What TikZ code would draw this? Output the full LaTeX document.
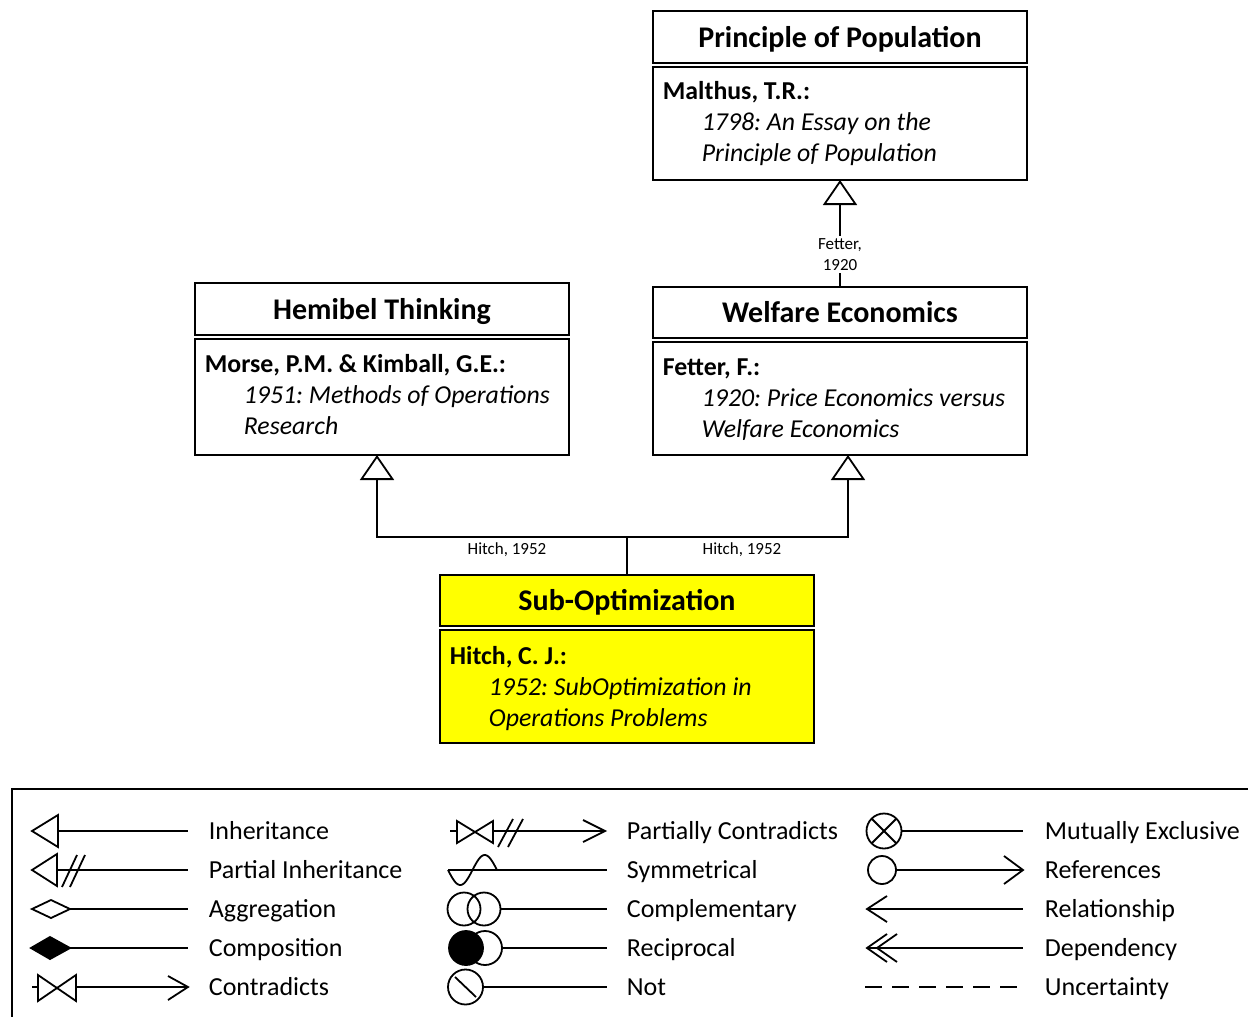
\documentclass[tikz,border=0pt]{standalone}
\usepackage{fontspec}
\setmainfont{Carlito}
\usetikzlibrary{arrows.meta}
\definecolor{hlyellow}{RGB}{255,255,0}
\frenchspacing
\begin{document}
\begin{tikzpicture}[x=1pt,y=-1pt,line width=1.8pt,
  titlebox/.style={draw,minimum width=374pt,minimum height=52pt,anchor=north west,inner sep=0pt,outer sep=0pt,text height=22pt,text depth=2pt,font=\fontsize{30}{36}\selectfont\bfseries},
  bodybox/.style={draw,minimum width=374pt,anchor=north west,inner sep=0pt,outer sep=0pt},
  who/.style={anchor=base west,inner sep=0pt,font=\fontsize{25.8}{31}\selectfont\bfseries},
  work/.style={anchor=base west,inner sep=0pt,font=\fontsize{25.8}{31}\selectfont\itshape},
  lbl/.style={inner sep=2pt,font=\fontsize{17}{21}\selectfont,align=center},
  inh/.style={-{Triangle[open,length=25pt,width=34pt,line width=1.8pt]}},
  legtxt/.style={anchor=base west,inner sep=0pt,font=\fontsize{26}{30}\selectfont},
]
\useasboundingbox (0,0) rectangle (1248,1017);
\clip (0,0) rectangle (1248,1017);

% Principle of Population
\node[titlebox] (prinT) at (653,11) {Principle of Population};
\node[bodybox,minimum height=113pt] (prinB) at (653,67) {};
\node[who] (prinA) at (662,99) {Malthus, T.R.:};
\node[work] (prinW1) at (701,130) {1798: An Essay on the};
\node[work] (prinW2) at (701,161) {Principle of Population};

% Hemibel Thinking
\node[titlebox] (hemT) at (195,283) {Hemibel Thinking};
\node[bodybox,minimum height=116pt] (hemB) at (195,339) {};
\node[who] (hemA) at (204,372) {Morse, P.M. \& Kimball, G.E.:};
\node[work] (hemW1) at (243,403) {1951: Methods of Operations};
\node[work] (hemW2) at (243,434) {Research};

% Welfare Economics
\node[titlebox,minimum height=51pt] (welT) at (653,287) {Welfare Economics};
\node[bodybox,minimum height=113pt] (welB) at (653,342) {};
\node[who] (welA) at (662,375) {Fetter, F.:};
\node[work] (welW1) at (701,406) {1920: Price Economics versus};
\node[work] (welW2) at (701,437) {Welfare Economics};

% Sub-Optimization
\node[titlebox,minimum height=51pt,fill=hlyellow] (subT) at (440,575) {Sub-Optimization};
\node[bodybox,minimum height=113pt,fill=hlyellow] (subB) at (440,630) {};
\node[who] (subA) at (449,664) {Hitch, C. J.:};
\node[work] (subW1) at (488,695) {1952: SubOptimization in};
\node[work] (subW2) at (488,726) {Operations Problems};

% connectors
\path (subT.north) ++(0,-38) coordinate (j);
\coordinate (hemIn) at (377,455);
\coordinate (welIn) at (848,455);
\draw[inh] (welT.north) -- (prinB.south);
\node[lbl,fill=white] (fetLbl) at (840,254.5) {Fetter,\\1920};
\draw[inh] (subT.north) -- (j) -| (hemIn);
\draw[inh] (j) -| (welIn);
\node[lbl] (hitL) at (507,550) {Hitch, 1952};
\node[lbl] (hitR) at (742,550) {Hitch, 1952};

% legend
\draw (12,789) rectangle (1270,1040);

% column 1
\begin{scope}[shift={(0,831)}]
  \draw (32,0) -- (58,-16) -- (58,16) -- cycle; \draw (58,0) -- (188,0);
  \node[legtxt] (l11) at (208,8) {Inheritance};
\end{scope}
\begin{scope}[shift={(0,870)}]
  \draw (32,0) -- (57,-16) -- (57,16) -- cycle; \draw (57,0) -- (188,0);
  \draw (62,17) -- (77,-15); \draw (70,17) -- (85,-15);
  \node[legtxt] (l12) at (208,8) {Partial Inheritance};
\end{scope}
\begin{scope}[shift={(0,909)}]
  \draw (32,0) -- (51,-9) -- (70,0) -- (51,9) -- cycle; \draw (70,0) -- (188,0);
  \node[legtxt] (l13) at (208,8) {Aggregation};
\end{scope}
\begin{scope}[shift={(0,948)}]
  \filldraw (31,0) -- (50,-11) -- (70,0) -- (50,11) -- cycle; \draw (70,0) -- (188,0);
  \node[legtxt] (l14) at (208,8) {Composition};
\end{scope}
\begin{scope}[shift={(0,987)}]
  \draw (32,0) -- (38,0);
  \draw (38,-12) -- (38,14) -- (76,-12) -- (76,14) -- cycle;
  \draw (76,0) -- (188,0); \draw (168,-11) -- (188,0) -- (168,13);
  \node[legtxt] (l15) at (208,8) {Contradicts};
\end{scope}

% column 2
\begin{scope}[shift={(0,831)}]
  \draw (450,0) -- (457,0);
  \draw (457,-10) -- (457,12) -- (493,-10) -- (493,12) -- cycle;
  \draw (493,0) -- (605,0); \draw (583,-11) -- (605,0) -- (583,11);
  \draw (498,16) -- (513,-12); \draw (508,16) -- (523,-12);
  \node[legtxt] (l21) at (626,8) {Partially Contradicts};
\end{scope}
\begin{scope}[shift={(0,870)}]
  \draw (448,0) -- (607,0);
  \draw plot[domain=0:360,samples=73,smooth] ({448+\x/360*49},{15*sin(\x)});
  \node[legtxt] (l22) at (626,8) {Symmetrical};
\end{scope}
\begin{scope}[shift={(0,909)}]
  \draw (464,0) circle[radius=16.5]; \draw (484,0) circle[radius=16.5];
  \draw (500.5,0) -- (607,0);
  \node[legtxt] (l23) at (626,8) {Complementary};
\end{scope}
\begin{scope}[shift={(0,948)}]
  \draw (485,0) circle[radius=17]; \filldraw (466,0) circle[radius=17];
  \draw (502,0) -- (607,0);
  \node[legtxt] (l24) at (626,8) {Reciprocal};
\end{scope}
\begin{scope}[shift={(0,987)}]
  \draw (465.5,0) circle[radius=17.5]; \draw (455,-10) -- (476,10);
  \draw (483,0) -- (607,0);
  \node[legtxt] (l25) at (626,8) {Not};
\end{scope}

% column 3
\begin{scope}[shift={(0,831)}]
  \draw (884,0) circle[radius=17.5];
  \draw (871.6,-12.4) -- (896.4,12.4); \draw (871.6,12.4) -- (896.4,-12.4);
  \draw (901.5,0) -- (1023,0);
  \node[legtxt] (l31) at (1044,8) {Mutually Exclusive};
\end{scope}
\begin{scope}[shift={(0,870)}]
  \draw (882,0) circle[radius=14]; \draw (896,0) -- (1023,0);
  \draw (1004,-14) -- (1023,0) -- (1004,14);
  \node[legtxt] (l32) at (1044,8) {References};
\end{scope}
\begin{scope}[shift={(0,909)}]
  \draw (887,-13) -- (867,0) -- (887,13); \draw (867,0) -- (1023,0);
  \node[legtxt] (l33) at (1044,8) {Relationship};
\end{scope}
\begin{scope}[shift={(0,948)}]
  \draw (887,-14) -- (867,0) -- (887,14); \draw (897,-14) -- (877,0) -- (897,14);
  \draw (867,0) -- (1023,0);
  \node[legtxt] (l34) at (1044,8) {Dependency};
\end{scope}
\begin{scope}[shift={(0,987)}]
  \draw[dash pattern=on 17pt off 10pt] (865,0) -- (1017,0);
  \node[legtxt] (l35) at (1044,8) {Uncertainty};
\end{scope}
\end{tikzpicture}
\end{document}
